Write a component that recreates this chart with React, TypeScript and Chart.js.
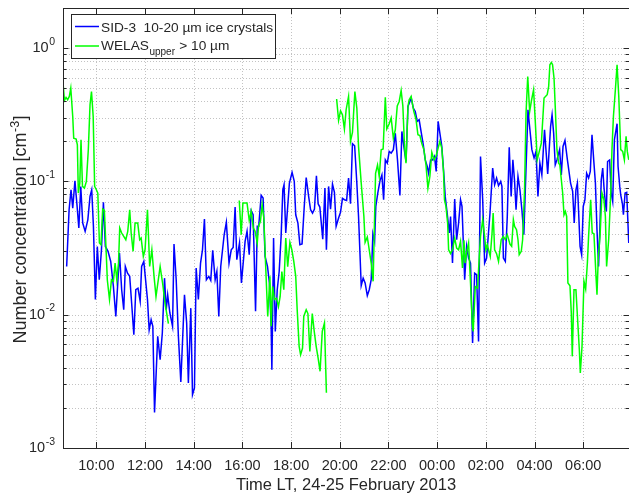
import React, { useEffect, useRef } from "react";
import { Chart, registerables } from "chart.js";

Chart.register(...registerables);

// x values are hours counted from 00:00 on 24 February 2013
const X_MIN = 8.63;
const X_MAX = 31.88;
const Y_MIN = 0.001;
const Y_MAX = 2;
const xTickHours = [10, 12, 14, 16, 18, 20, 22, 24, 26, 28, 30];
const yDecadeExponents = [-3, -2, -1, 0];

const xTitle = "Time LT, 24-25 February 2013";
const blueLabel = "SID-3  10-20 µm ice crystals";

const blueTimes = [
  8.78, 8.88, 8.96, 9.03, 9.12, 9.21, 9.28, 9.36, 9.44, 9.54, 9.65, 9.74, 9.81, 9.88, 9.96,
  10.04, 10.12, 10.21, 10.29, 10.37, 10.48, 10.59, 10.7, 10.8, 10.88, 10.95, 11.04, 11.125,
  11.19, 11.28, 11.37, 11.45, 11.54, 11.62, 11.71, 11.8, 11.86, 11.95,
  12.1, 12.17, 12.25, 12.32, 12.39, 12.52, 12.62, 12.71, 12.8, 12.87, 12.93, 13.02, 13.13,
  13.19, 13.28, 13.37, 13.47, 13.62, 13.71, 13.78, 13.88, 13.95, 14.03, 14.1, 14.19, 14.28,
  14.36, 14.44, 14.52, 14.62, 14.7, 14.78, 14.88, 14.95, 15.03, 15.11,
  15.25, 15.34, 15.45, 15.54, 15.62, 15.7, 15.77, 15.88, 15.96, 16.11, 16.19, 16.28, 16.36,
  16.44, 16.54, 16.61, 16.67, 16.77, 16.85, 16.93, 17.03, 17.11, 17.18, 17.21, 17.28, 17.35,
  17.43, 17.51, 17.59, 17.66, 17.71, 17.78, 17.86, 17.93, 18.04, 18.13, 18.19, 18.28, 18.36,
  18.45, 18.54,
  18.62, 18.72, 18.8, 18.88, 18.96, 19.04, 19.11, 19.18, 19.24, 19.3, 19.39, 19.45, 19.54,
  19.62, 19.7, 19.78, 19.85, 19.95, 20.03, 20.11, 20.19, 20.28, 20.36, 20.44, 20.52, 20.61,
  20.7, 20.77, 20.88, 20.96, 21.04, 21.13, 21.21, 21.29, 21.36, 21.43, 21.48, 21.56, 21.65,
  21.73, 21.8,
  21.87, 21.95, 22.03, 22.11, 22.2, 22.28, 22.37, 22.47, 22.55, 22.63, 22.72, 22.8, 22.88,
  22.935, 23.02, 23.1, 23.18, 23.26, 23.35, 23.43, 23.51, 23.59, 23.65, 23.73, 23.81, 23.89,
  23.96, 24.04, 24.13, 24.19, 24.28, 24.33, 24.41, 24.5, 24.55, 24.63, 24.72, 24.8, 24.88, 24.96,
  25.02, 25.13, 25.21, 25.29, 25.37, 25.455, 25.54, 25.62, 25.7, 25.78, 25.87, 25.95, 26.03,
  26.17, 26.28, 26.36, 26.44, 26.52, 26.61, 26.66, 26.72, 26.8, 26.88, 26.96, 27.04, 27.11,
  27.18, 27.24, 27.32, 27.4, 27.48, 27.56, 27.73, 27.81, 27.89, 27.98, 28.06, 28.14, 28.22, 28.3,
  28.41, 28.54, 28.66, 28.72, 28.785, 28.85, 28.92, 29.03, 29.1, 29.17, 29.25, 29.35, 29.48,
  29.565, 29.63, 29.7, 29.76, 29.87, 29.935, 30.0, 30.07, 30.14, 30.22, 30.29, 30.36, 30.43,
  30.5, 30.565, 30.63, 30.69, 30.74, 30.8, 30.85, 30.91, 30.95, 31.0, 31.085, 31.15, 31.21,
  31.28, 31.39, 31.43, 31.5, 31.54, 31.61, 31.65, 31.72, 31.785, 31.87,
];
const blueValues = [
  0.023, 0.0613, 0.0866, 0.0631, 0.101, 0.0649, 0.0447, 0.0917, 0.0487, 0.0422, 0.0515, 0.0772,
  0.0866, 0.046, 0.013, 0.0325, 0.0183, 0.0307, 0.0696, 0.0325, 0.0299, 0.0251, 0.0163, 0.0097,
  0.0173, 0.029, 0.0154, 0.0109, 0.023, 0.0205, 0.0194, 0.0122, 0.00708, 0.0154, 0.0158, 0.0126,
  0.023, 0.0251,
  0.013, 0.0077, 0.00917, 0.00818, 0.00185, 0.00688, 0.0046, 0.00729, 0.0188, 0.0109, 0.0141,
  0.0103, 0.00818, 0.0339, 0.0183, 0.00688, 0.00313, 0.0141, 0.00866, 0.00307, 0.0112, 0.00251,
  0.00282, 0.0224, 0.013, 0.0244, 0.0307, 0.0522, 0.0183, 0.0194, 0.0181, 0.0304, 0.0183, 0.0211,
  0.0097, 0.023,
  0.0398, 0.0493, 0.0244, 0.0307, 0.032, 0.0642, 0.0259, 0.0345, 0.0173, 0.0355, 0.0422, 0.0282,
  0.0603, 0.0562, 0.0106, 0.046, 0.046, 0.0785, 0.075, 0.0274, 0.023, 0.0173, 0.00818, 0.00387,
  0.0376, 0.0075, 0.0154, 0.0211, 0.0387, 0.0866, 0.0944, 0.041, 0.0649, 0.0972, 0.117, 0.1,
  0.0562, 0.0487, 0.0335, 0.034, 0.0649,
  0.107, 0.0772, 0.0613, 0.0579, 0.062, 0.11, 0.068, 0.0642, 0.0487, 0.0369, 0.0891, 0.0307,
  0.0917, 0.062, 0.0955, 0.0827, 0.046, 0.0531, 0.0586, 0.0746, 0.0729, 0.072, 0.106, 0.068,
  0.192, 0.185, 0.0972, 0.0546, 0.0165, 0.0188, 0.0173, 0.0139, 0.0154, 0.0183, 0.0405, 0.0355,
  0.0649, 0.0818, 0.101, 0.112, 0.0729,
  0.145, 0.137, 0.168, 0.163, 0.173, 0.23, 0.145, 0.0785, 0.237, 0.183, 0.141, 0.365, 0.398,
  0.422, 0.355, 0.335, 0.282, 0.29, 0.23, 0.188, 0.145, 0.13, 0.115, 0.145, 0.145, 0.154, 0.119,
  0.282, 0.218, 0.183, 0.109, 0.0772, 0.0579, 0.041, 0.0546, 0.0244, 0.0738, 0.0365, 0.0487,
  0.0729,
  0.0649, 0.0183, 0.0326, 0.0266, 0.0244, 0.00613, 0.0205, 0.02, 0.0063, 0.154, 0.0729, 0.0244,
  0.0266, 0.0579, 0.126, 0.0944, 0.106, 0.0928, 0.1, 0.0917, 0.0266, 0.0251, 0.0546, 0.18,
  0.0772, 0.145, 0.1, 0.0613, 0.109, 0.0866, 0.0613, 0.0398, 0.345, 0.244, 0.173, 0.15, 0.168,
  0.0772, 0.137, 0.112,
  0.244, 0.114, 0.259, 0.316, 0.23, 0.133, 0.145, 0.173, 0.112, 0.183, 0.203, 0.145, 0.0972,
  0.0841, 0.0487, 0.0866, 0.0972, 0.0326, 0.0282, 0.0649, 0.0729, 0.115, 0.106, 0.119, 0.224,
  0.145, 0.0972, 0.0434, 0.023, 0.0487, 0.103, 0.126, 0.0917, 0.068, 0.0596, 0.141, 0.145,
  0.0818, 0.0709, 0.205, 0.271, 0.13, 0.0917, 0.0794, 0.068, 0.0562, 0.0818, 0.0827, 0.0345,
];

// null values mark the gaps in the WELAS record
const greenTimes = [
  8.62, 8.69, 8.755, 8.82, 8.89, 8.95, 9.03, 9.07, 9.17, 9.22, 9.26, 9.32, 9.37, 9.43, 9.51,
  9.59, 9.67, 9.74, 9.8, 9.87, 9.93, 10.0, 10.06, 10.125, 10.19, 10.26, 10.33, 10.4, 10.45,
  10.54, 10.62, 10.7, 10.77, 10.84, 10.91, 10.96, 11.04, 11.125, 11.21, 11.29, 11.37, 11.43,
  11.51, 11.59, 11.7, 11.78, 11.84, 11.93, 12.0, 12.1, 12.19, 12.28, 12.37, 12.45, 12.62,
  12.73, 12.82, 12.96,
  14.5,
  15.87, 15.95, 16.02, 16.19, 16.28, 16.36, 16.45, 16.52, 16.61, 16.66, 16.74, 16.81, 16.88,
  16.95, 17.04, 17.13, 17.18, 17.24, 17.32, 17.4, 17.48, 17.55, 17.62, 17.7, 17.78, 17.86,
  17.95, 18.03, 18.11, 18.19, 18.25, 18.33, 18.39, 18.47, 18.52, 18.62, 18.69, 18.77, 18.87,
  18.95, 19.03, 19.11, 19.19, 19.28, 19.37, 19.45,
  19.66,
  19.87, 19.95, 20.03, 20.11, 20.19, 20.26, 20.36, 20.44, 20.52, 20.62, 20.7, 20.77, 20.88,
  20.99, 21.04, 21.13, 21.21, 21.29, 21.37, 21.47, 21.55, 21.62, 21.7, 21.78, 21.87, 21.93,
  22.03, 22.11, 22.2, 22.28, 22.36, 22.44, 22.52, 22.59, 22.66, 22.72, 22.8, 22.85, 22.93,
  23.04, 23.13, 23.21, 23.29, 23.37, 23.455, 23.54, 23.62, 23.7, 23.78, 23.87, 23.95, 24.03,
  24.11, 24.19, 24.26, 24.3, 24.36, 24.43, 24.47, 24.55, 24.63, 24.72, 24.8, 24.88, 24.96,
  25.04, 25.1, 25.15, 25.22, 25.29, 25.37, 25.44, 25.48, 25.565, 25.66, 25.73, 25.78, 25.87,
  25.95, 26.0, 26.06, 26.11, 26.18, 26.25, 26.3, 26.36, 26.44, 26.52, 26.63, 26.72, 26.8,
  26.88, 26.99, 27.06, 27.13, 27.18, 27.26, 27.32, 27.37, 27.455, 27.51, 27.59, 27.65, 27.72,
  27.8, 27.88, 27.96, 28.03, 28.11, 28.195, 28.28, 28.39, 28.52, 28.58, 28.63, 28.69, 28.74,
  28.8, 28.85, 28.92, 28.99, 29.04, 29.155, 29.21, 29.265, 29.32, 29.37, 29.455, 29.51, 29.55,
  29.62, 29.7, 29.785, 29.84, 29.88, 29.95, 30.03, 30.1, 30.17, 30.22, 30.305, 30.37, 30.44,
  30.525, 30.565, 30.62, 30.69, 30.77, 30.85, 30.91, 30.96, 31.045, 31.13, 31.18, 31.24, 31.32,
  31.39, 31.46, 31.54, 31.62, 31.69, 31.76, 31.81, 31.87,
];
const greenValues = [
  0.579, 0.405, 0.427, 0.41, 0.434, 0.501, 0.307, 0.211, 0.208, 0.188, 0.0818, 0.0972, 0.205,
  0.0917, 0.0891, 0.1, 0.173, 0.376, 0.473, 0.307, 0.0917, 0.0866, 0.0818, 0.0345, 0.0335, 0.062,
  0.0606, 0.0307, 0.0183, 0.013, 0.0183, 0.0178, 0.0244, 0.0183, 0.0244, 0.0447, 0.041, 0.0387,
  0.0365, 0.0422, 0.0613, 0.041, 0.0299, 0.0487, 0.0487, 0.0365, 0.0376, 0.0274, 0.0307, 0.0613,
  0.023, 0.0307, 0.0194, 0.0137, 0.023, 0.0168, 0.0122, 0.00856,
  null,
  0.072, 0.0398, 0.0688, 0.0688, 0.051, 0.0596, 0.0447, 0.0422, 0.0345, 0.046, 0.0501, 0.0668,
  0.0531, 0.0244, 0.0097, 0.0194, 0.00818, 0.0163, 0.013, 0.0133, 0.0115, 0.0137, 0.0211, 0.0154,
  0.0376, 0.0229, 0.0349, 0.0307, 0.0251, 0.0194, 0.0109, 0.00579, 0.00501, 0.00562, 0.0097,
  0.0109, 0.0102, 0.00531, 0.0102, 0.0075, 0.00579, 0.00473, 0.00376, 0.0075, 0.00866, 0.0026,
  null,
  0.415, 0.287, 0.339, 0.316, 0.247, 0.345, 0.434, 0.2, 0.233, 0.473, 0.355, 0.183, 0.0972,
  0.0546, 0.0349, 0.0383, 0.0307, 0.0244, 0.0178, 0.115, 0.133, 0.109, 0.173, 0.175, 0.427,
  0.248, 0.271, 0.299, 0.211, 0.244, 0.369, 0.398, 0.481, 0.369, 0.181, 0.137, 0.365, 0.41,
  0.434, 0.335, 0.293, 0.224, 0.221, 0.192, 0.173, 0.133, 0.0891, 0.109, 0.165, 0.145, 0.154,
  0.175, 0.2, 0.178, 0.119, 0.0729, 0.0649, 0.0487, 0.0307, 0.0287, 0.0307, 0.0376, 0.0316,
  0.0307, 0.0355, 0.0224, 0.0361, 0.0244, 0.0299, 0.0345, 0.0173, 0.00866, 0.0075, 0.0163,
  0.0158, 0.0274, 0.0387, 0.0516, 0.0387, 0.0307, 0.0335, 0.0307, 0.0274, 0.0398, 0.0579,
  0.0307, 0.0287, 0.0251, 0.0365, 0.0387, 0.0365, 0.0398, 0.0339, 0.0326, 0.0516, 0.046,
  0.0434, 0.0365, 0.0282, 0.0299, 0.0365, 0.0866, 0.325, 0.613, 0.335, 0.41, 0.487, 0.282,
  0.145, 0.168, 0.194, 0.422, 0.447, 0.516, 0.75, 0.781, 0.75, 0.596, 0.365, 0.173, 0.137,
  0.133, 0.0818, 0.0562, 0.0596, 0.0546, 0.0173, 0.0165, 0.0103, 0.00487, 0.0154, 0.0154,
  0.00818, 0.00546, 0.00365, 0.00579, 0.0178, 0.0156, 0.0244, 0.0387, 0.0729, 0.041, 0.0405,
  0.0194, 0.0141, 0.0274, 0.0387, 0.0818, 0.0729, 0.0546, 0.023, 0.0365, 0.0818, 0.173, 0.307,
  0.487, 0.75, 0.434, 0.173, 0.168, 0.145, 0.218, 0.168, 0.145,
];

const TEXT = "#262626";
const FONT = '"Liberation Sans", Arial, Helvetica, sans-serif';
const BLUE = "#0000ff";
const GREEN = "#00ff00";

function fmtHour(h: number) {
  const hh = ((h % 24) + 24) % 24;
  return `${String(hh).padStart(2, "0")}:00`;
}

const decorPlugin = {
  id: "matlabDecor",
  beforeDatasetsDraw(chart: any) {
    const { ctx, chartArea: a, scales } = chart;
    const xs = scales.x;
    const ys = scales.y;
    ctx.save();
    ctx.strokeStyle = "rgba(38,38,38,0.28)";
    ctx.lineWidth = 1;
    ctx.setLineDash([1, 2]);
    for (const h of xTickHours) {
      const px = Math.round(xs.getPixelForValue(h)) + 0.5;
      ctx.beginPath();
      ctx.moveTo(px, a.top);
      ctx.lineTo(px, a.bottom);
      ctx.stroke();
    }
    for (const e of yDecadeExponents) {
      for (let m = 1; m <= 9; m++) {
        const v = m * Math.pow(10, e);
        if (v > Y_MAX || v <= Y_MIN) continue;
        const py = Math.round(ys.getPixelForValue(v)) + 0.5;
        ctx.beginPath();
        ctx.moveTo(a.left, py);
        ctx.lineTo(a.right, py);
        ctx.stroke();
      }
    }
    ctx.restore();
  },
  afterDraw(chart: any) {
    const { ctx, chartArea: a, scales } = chart;
    const xs = scales.x;
    const ys = scales.y;
    ctx.save();
    ctx.setLineDash([]);
    ctx.strokeStyle = TEXT;
    ctx.lineWidth = 1;
    // frame
    ctx.strokeRect(Math.round(a.left) + 0.5, Math.round(a.top) + 0.5,
      Math.round(a.right) - Math.round(a.left), Math.round(a.bottom) - Math.round(a.top));
    // x ticks (inward, top and bottom)
    for (const h of xTickHours) {
      const px = Math.round(xs.getPixelForValue(h)) + 0.5;
      ctx.beginPath();
      ctx.moveTo(px, a.bottom);
      ctx.lineTo(px, a.bottom - 6);
      ctx.moveTo(px, a.top);
      ctx.lineTo(px, a.top + 6);
      ctx.stroke();
    }
    // y ticks
    for (const e of yDecadeExponents) {
      for (let m = 1; m <= 9; m++) {
        const v = m * Math.pow(10, e);
        if (v > Y_MAX || v < Y_MIN) continue;
        const len = m === 1 ? 5.5 : 3.5;
        const py = Math.round(ys.getPixelForValue(v)) + 0.5;
        ctx.beginPath();
        ctx.moveTo(a.left, py);
        ctx.lineTo(a.left + len, py);
        ctx.moveTo(a.right, py);
        ctx.lineTo(a.right - len, py);
        ctx.stroke();
      }
    }
    ctx.fillStyle = TEXT;
    // x tick labels
    ctx.font = `14.5px ${FONT}`;
    ctx.textAlign = "center";
    ctx.textBaseline = "alphabetic";
    for (const h of xTickHours) {
      ctx.fillText(fmtHour(h), xs.getPixelForValue(h), a.bottom + 21.5);
    }
    // y tick labels 10^e
    ctx.textAlign = "left";
    for (const e of yDecadeExponents) {
      const py = ys.getPixelForValue(Math.pow(10, e));
      ctx.font = `14.5px ${FONT}`;
      const wb = ctx.measureText("10").width;
      ctx.font = `10.5px ${FONT}`;
      const sup = String(e);
      const ws = ctx.measureText(sup).width;
      const x0 = a.left - 8.5 - wb - ws;
      ctx.font = `14.5px ${FONT}`;
      ctx.fillText("10", x0, py + 4);
      ctx.font = `10.5px ${FONT}`;
      ctx.fillText(sup, x0 + wb + 0.5, py - 3.3);
    }
    // x title
    ctx.font = `16.5px ${FONT}`;
    ctx.textAlign = "center";
    ctx.fillText(xTitle, (a.left + a.right) / 2, a.bottom + 42);
    // y title with superscript
    ctx.save();
    ctx.translate(25.5, (a.top + a.bottom) / 2 + 2);
    ctx.rotate(-Math.PI / 2);
    ctx.textAlign = "left";
    const p1 = "Number concentration [cm";
    const p2 = "-3";
    const p3 = "]";
    ctx.font = `18px ${FONT}`;
    const w1 = ctx.measureText(p1).width;
    const w3 = ctx.measureText(p3).width;
    ctx.font = `12.5px ${FONT}`;
    const w2 = ctx.measureText(p2).width;
    const start = -(w1 + w2 + w3) / 2;
    ctx.font = `18px ${FONT}`;
    ctx.fillText(p1, start, 0);
    ctx.font = `12.5px ${FONT}`;
    ctx.fillText(p2, start + w1 + 0.5, -7);
    ctx.font = `18px ${FONT}`;
    ctx.fillText(p3, start + w1 + w2 + 1, 0);
    ctx.restore();
    // legend
    const lx = 71.5, ly = 14.5, lw = 204, lh = 44;
    ctx.fillStyle = "#ffffff";
    ctx.fillRect(lx, ly, lw, lh);
    ctx.strokeStyle = TEXT;
    ctx.lineWidth = 1;
    ctx.strokeRect(lx, ly, lw, lh);
    ctx.lineWidth = 1.5;
    ctx.strokeStyle = BLUE;
    ctx.beginPath();
    ctx.moveTo(75, 26.5);
    ctx.lineTo(99, 26.5);
    ctx.stroke();
    ctx.strokeStyle = GREEN;
    ctx.beginPath();
    ctx.moveTo(75, 46);
    ctx.lineTo(99, 46);
    ctx.stroke();
    ctx.fillStyle = TEXT;
    ctx.textAlign = "left";
    ctx.font = `13.7px ${FONT}`;
    ctx.fillText(blueLabel, 101, 31.6);
    ctx.fillText("WELAS", 101, 50.3);
    const ww = ctx.measureText("WELAS").width;
    ctx.font = `10px ${FONT}`;
    ctx.fillText("upper", 101 + ww + 0.5, 54.8);
    const wu = ctx.measureText("upper").width;
    ctx.font = `13.7px ${FONT}`;
    ctx.fillText(" > 10 µm", 101 + ww + wu + 1, 50.3);
    ctx.restore();
  },
};

export default function App() {
  const ref = useRef<HTMLCanvasElement | null>(null);
  useEffect(() => {
    document.body.style.margin = "0";
    document.body.style.overflow = "hidden";
    const canvas = ref.current;
    if (!canvas) return;
    const chart = new Chart(canvas, {
      type: "line",
      data: {
        datasets: [
          {
            label: blueLabel,
            data: blueTimes.map((t, i) => ({ x: t, y: blueValues[i] })),
            borderColor: BLUE,
            backgroundColor: BLUE,
            borderWidth: 1.5,
            pointRadius: 0,
            tension: 0,
            order: 1,
          },
          {
            label: "WELAS upper > 10 µm",
            data: greenTimes.map((t, i) => ({ x: t, y: greenValues[i] as any })),
            borderColor: GREEN,
            backgroundColor: GREEN,
            borderWidth: 1.5,
            pointRadius: 0,
            tension: 0,
            spanGaps: false,
            order: 0,
          },
        ],
      },
      options: {
        responsive: false,
        animation: false,
        events: [],
        layout: { padding: { top: 8, left: 0, right: 0, bottom: 0 } },
        plugins: { legend: { display: false }, tooltip: { enabled: false } },
        scales: {
          x: {
            type: "linear",
            min: X_MIN,
            max: X_MAX,
            ticks: { display: false },
            grid: { display: false },
            border: { display: false },
            afterBuildTicks: (s: any) => {
              s.ticks = xTickHours.map((v) => ({ value: v }));
            },
            afterFit: (s: any) => {
              s.height = 45;
            },
          },
          y: {
            type: "logarithmic",
            min: Y_MIN,
            max: Y_MAX,
            ticks: { display: false },
            grid: { display: false },
            border: { display: false },
            afterFit: (s: any) => {
              s.width = 63;
            },
          },
        },
      } as any,
      plugins: [decorPlugin],
    });
    return () => chart.destroy();
  }, []);
  return (
    <div style={{ width: 629, height: 493 }}>
      <canvas ref={ref} width={629} height={493} style={{ display: "block" }} />
    </div>
  );
}
